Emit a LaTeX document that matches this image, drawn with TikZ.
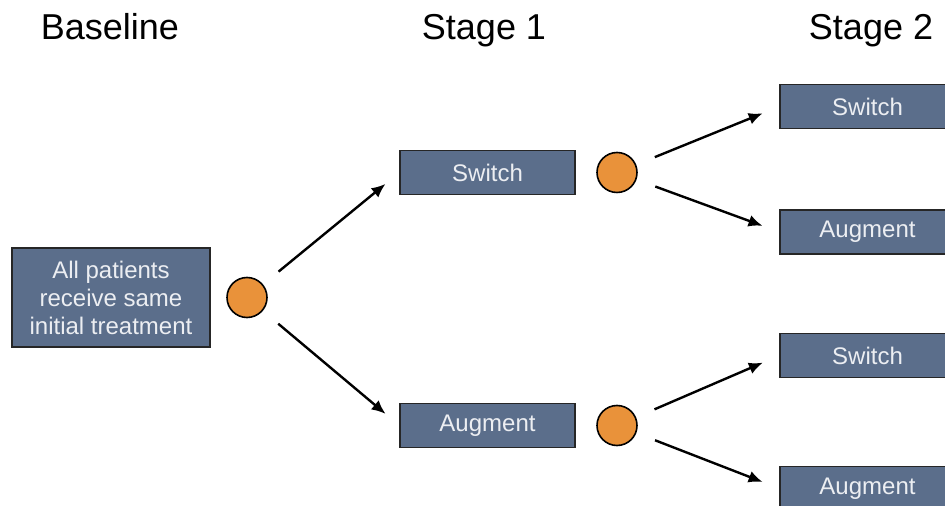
\documentclass[tikz,border=0pt]{standalone}
\usepackage{fontspec}
\setmainfont{Liberation Sans}
\usepackage{tikz}
\usetikzlibrary{positioning, arrows.meta}

\definecolor{slate}{RGB}{91,110,139}
\definecolor{boxtext}{RGB}{236,238,242}
\definecolor{dotorange}{RGB}{233,146,58}

\begin{document}
\begin{tikzpicture}
    [
        x=0.5pt, y=-0.5pt, on grid, auto,
        slate_box/.style={rectangle, draw=black!85, fill=slate, line width=0.6pt, text=boxtext, font=\fontsize{12}{14}\selectfont, minimum width=87.5pt, minimum height=22pt, inner sep=0pt},
        orange_dot/.style={circle, draw=black, fill=dotorange, line width=0.8pt, minimum size=20pt, inner sep=0pt},
        stage_title/.style={font=\fontsize{18}{20}\selectfont, anchor=base},
        fork/.style={-{Latex[length=7pt, width=6pt]}, line width=1.2pt, color=black, shorten <=10pt, shorten >=9pt},
    ]
        \useasboundingbox (0,0) rectangle (945,506);
        \node[stage_title] (t0) at (110,40) {Baseline} ;
        \node[stage_title] (t1) at (484,40) {Stage 1} ;
        \node[stage_title] (t2) at (871,40) {Stage 2} ;
        \node[slate_box, minimum width=99pt, minimum height=49.5pt, align=center] (base) at (111,297.5) {All patients\\receive same\\initial treatment} ;
        \node[orange_dot] (c0) [right = 68pt of base] {} ;
        \node[slate_box] (s1) [above right = 62.5pt and 120.25pt of c0] {Switch} ;
        \node[slate_box] (a1) [below right = 64pt and 120.25pt of c0] {Augment} ;
        \node[orange_dot] (c1) [right = 64.75pt of s1] {} ;
        \node[orange_dot] (c2) [right = 64.75pt of a1] {} ;
        \node[slate_box] (s2a) [above right = 33pt and 125.25pt of c1] {Switch} ;
        \node[slate_box] (a2a) [below right = 29.75pt and 125.25pt of c1] {Augment} ;
        \node[slate_box] (s2b) [above right = 35pt and 125.25pt of c2] {Switch} ;
        \node[slate_box] (a2b) [below right = 31.5pt and 125.25pt of c2] {Augment} ;
        \draw[fork] (c0) to (s1.west) ;
        \draw[fork] (c0) to (a1.west) ;
        \draw[fork] (c1) to (s2a.west) ;
        \draw[fork] (c1) to (a2a.west) ;
        \draw[fork] (c2) to (s2b.west) ;
        \draw[fork] (c2) to (a2b.west) ;
    \end{tikzpicture}
\end{document}
